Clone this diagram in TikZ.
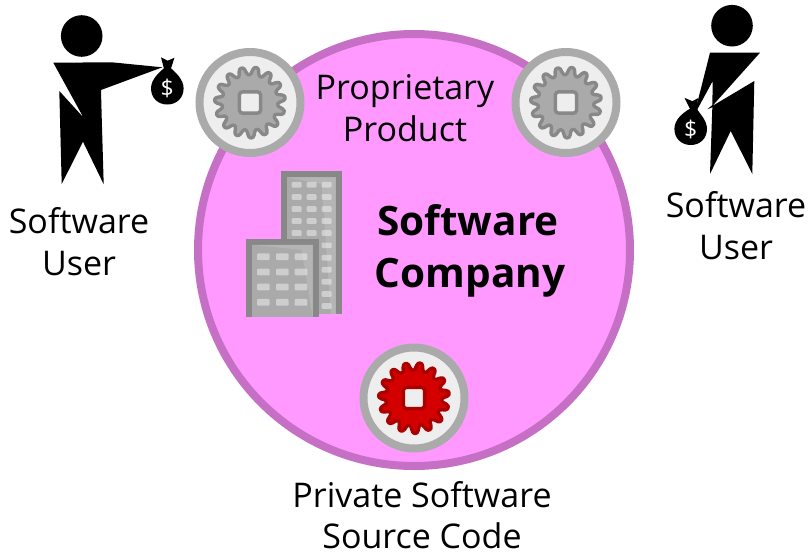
\documentclass[tikz,border=0pt]{standalone}
\usepackage{fontspec}
\setmainfont{Open Sans}
\newcommand{\mygear}[4]{%
  \begin{scope}[shift={(#1,#2)}]
    \draw[line width=3.4pt,line join=round,fill=#3,draw=#4]
      plot[smooth cycle,samples=150,domain=0:357.6]
        ({(31.6+4.2*tanh(1.5*cos(15*(\x-10))))*sin(\x)},{-(31.6+4.2*tanh(1.5*cos(15*(\x-10))))*cos(\x)});
    \draw[line width=3.4pt,rounded corners=3pt,fill=discfill,draw=#4] (-10.6,-10.6) rectangle (10.6,10.6);
  \end{scope}}
\newcommand{\mybag}[3]{%
  \begin{scope}[shift={(#1,#2)}]
    \fill[black] (-6.3,-31) -- (0.4+#3/2,-27.6) -- (7.2,-30.6) -- (3.7+#3,-20)
      .. controls (8,-16) and (16.3,-9) .. (16.3,0)
      .. controls (16.3,10) and (9,16.2) .. (0,16.2)
      .. controls (-9,16.2) and (-16.3,10) .. (-16.3,0)
      .. controls (-16.3,-9) and (-8,-16) .. (-3.4+#3,-20) -- cycle;
    \node[text=white,font=\fontsize{23}{23}\selectfont,inner sep=0pt] at (0,0.6) {\$};
  \end{scope}}
\definecolor{discfill}{HTML}{EEEEEE}
\definecolor{discring}{HTML}{AAAAAA}
\definecolor{geargray}{HTML}{AAAAAA}
\definecolor{gearedge}{HTML}{888888}
\definecolor{gearred}{HTML}{D40000}
\definecolor{gearrededge}{HTML}{AA0000}
\definecolor{pinkfill}{HTML}{FF99FF}
\definecolor{pinkedge}{HTML}{C570C5}
\definecolor{winlight}{HTML}{CECECE}
\tikzset{
  disc/.style={circle,line width=8pt,draw=discring,fill=discfill,minimum size=101pt,inner sep=0pt},
  lbl/.style={anchor=base,inner sep=0pt,font=\fontsize{34}{40}\selectfont},
  boldlbl/.style={anchor=base,inner sep=0pt,font=\fontsize{40.5}{44}\selectfont\bfseries},
  backwin/.style={fill=winlight,rounded corners=1pt},
  shine/.style={fill=white,fill opacity=.13}
}
\begin{document}
\begin{tikzpicture}[x=1pt,y=-1pt]
\useasboundingbox (0,0) rectangle (809,552);
\fill[white] (0,0) rectangle (809,552);
% company
\node[circle,line width=8pt,draw=pinkedge,fill=pinkfill,minimum size=432pt,inner sep=0pt] (company) at (414,250) {};
% discs and gears
\node[disc] (d1) at (250,102.5) {};
\node[disc] (d2) at (566,102.5) {};
\node[disc] (d3) at (414,398) {};
\mygear{250}{102.5}{geargray}{gearedge}
\mygear{566}{102.5}{geargray}{gearedge}
\mygear{414}{398}{gearred}{gearrededge}
% back building
\fill[gearedge] (281,171) rectangle (341.7,314);
\fill[geargray] (287.3,177.3) rectangle (335.7,314);
\foreach \yy in {184.7,197,209,221,233,245.3,257.7,269.7,281.7,294,306}{
  \foreach \xx in {296.7,311.7,326.7}{
    \fill[backwin] (\xx-5,\yy-2.8) rectangle (\xx+5,\yy+2.8);
  }}
\fill[shine] (287.3,177.3) -- (335.7,177.3) -- (335.7,314) -- (331,314) -- (321.7,184) -- cycle;
% front building
\fill[gearedge] (246,239) rectangle (319,317.3);
\fill[geargray] (252.3,244.7) rectangle (312.7,317.3);
\foreach \yy in {256.7,272,287,302.3}{
  \foreach \xx in {263.3,282.3,301}{
    \fill[backwin] (\xx-6.3,\yy-3.4) rectangle (\xx+6.3,\yy+3.4);
  }}
\fill[shine] (252.3,244.7) -- (312.7,244.7) -- (312.7,317.3) -- (301.7,250) -- cycle;
% left user
\fill[black] (81.7,36) circle[radius=20.8];
\fill[black] (53.3,62.7) -- (111.7,62.3) -- (162.3,67.3) -- (101,90) -- (101.7,116.7) -- (103.7,184.3)
  -- (83,141.7) -- (61.7,184) -- (59.3,91) -- (83.3,117.3) -- cycle;
\mybag{167.3}{88.3}{0}
% right user
\fill[black] (732,25.7) circle[radius=20.8];
\mybag{690.7}{128.8}{2.6}
\fill[black] (710,52.7) -- (760,52.7) -- (712.3,106) -- (754.3,81) -- (752.3,174) -- (730.7,131) -- (710,174)
  -- (712.3,108.3) -- (712.7,81) -- (697,110) -- (696,108) -- cycle;
\fill[black] (713,104.5) -- (707.3,109.3) -- (713,107) -- cycle;
% text
\node[lbl] (t1a) at (79,233) {Software};
\node[lbl] (t1b) at (79,275) {User};
\node[lbl] (t2a) at (736,217) {Software};
\node[lbl] (t2b) at (736,259.5) {User};
\node[lbl] (t3a) at (405,99) {Proprietary};
\node[lbl] (t3b) at (405,141.5) {Product};
\node[boldlbl] (t4a) at (468,235) {Software};
\node[boldlbl] (t4b) at (470,287) {Company};
\node[lbl] (t5a) at (422,507) {Private Software};
\node[lbl] (t5b) at (422,548) {Source Code};
\end{tikzpicture}
\end{document}
